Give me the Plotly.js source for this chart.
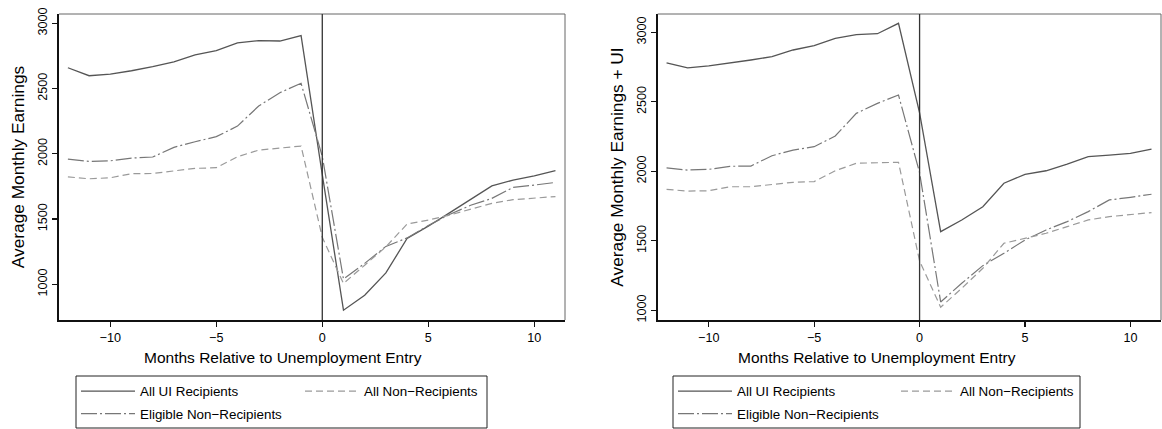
<!DOCTYPE html>
<html>
<head>
<meta charset="utf-8">
<script src="https://cdn.plot.ly/plotly-3.0.1.min.js"></script>
<style>html,body{margin:0;padding:0;background:#fff;}#chart{width:1162px;height:429px;}</style>
</head>
<body>
<div id="chart"></div>
<script>
// ---- data ----
const months = [-12,-11,-10,-9,-8,-7,-6,-5,-4,-3,-2,-1,0,1,2,3,4,5,6,7,8,9,10,11];
const seriesNames = ['All UI Recipients', 'All Non\u2212Recipients', 'Eligible Non\u2212Recipients'];
// Left panel: Average Monthly Earnings
const earnUI       = [2659,2598,2611,2636,2667,2705,2757,2790,2849,2867,2864,2905,1840,801,916,1087,1351,1445,1547,1650,1754,1798,1831,1870];
const earnNonRecip = [1823,1808,1816,1847,1849,1870,1888,1893,1977,2028,2046,2059,1360,1006,1146,1287,1461,1492,1530,1575,1620,1648,1660,1672];
const earnEligible = [1959,1941,1946,1967,1975,2049,2092,2131,2212,2366,2468,2540,1980,1040,1160,1290,1355,1450,1535,1605,1658,1742,1760,1780];
// Right panel: Average Monthly Earnings + UI
const totUI        = [2781,2745,2758,2777,2801,2825,2873,2904,2957,2983,2990,3065,2420,1566,1650,1745,1914,1978,2004,2052,2105,2117,2129,2160];
const totNonRecip  = [1870,1858,1860,1889,1889,1906,1921,1926,2004,2058,2060,2065,1355,1022,1158,1302,1482,1518,1554,1602,1650,1674,1686,1703];
const totEligible  = [2024,2009,2014,2036,2038,2112,2153,2177,2254,2417,2489,2549,1990,1060,1194,1321,1410,1506,1578,1638,1710,1794,1813,1835];
const xTicks = [-10,-5,0,5,10];
const yTicks = [1000,1500,2000,2500,3000];
const xTitle = 'Months Relative to Unemployment Entry';
const yTitleLeft = 'Average Monthly Earnings';
const yTitleRight = 'Average Monthly Earnings + UI';

// ---- styling ----
const W = 1162, H = 429;
const FONT = '"Liberation Sans", Arial, Helvetica, sans-serif';
const styles = [
  {color:'#555555', dash:'solid', width:1.3},
  {color:'#9a9a9a', dash:'7px,4px', width:1.2},
  {color:'#777777', dash:'16px,3px,2px,3px', width:1.2}
];
function tr(x, y, i, xa, ya, leg, grp){
  return {x:x, y:y, type:'scatter', mode:'lines', name:seriesNames[i],
    xaxis:xa, yaxis:ya, legend:leg, legendgroup:grp,
    line:{color:styles[i].color, dash:styles[i].dash, width:styles[i].width},
    hoverinfo:'skip'};
}
const data = [
  tr(months, earnUI, 0, 'x', 'y', 'legend', 'a1'),
  tr(months, earnEligible, 2, 'x', 'y', 'legend', 'a3'),
  tr(months, earnNonRecip, 1, 'x', 'y', 'legend2', 'a2'),
  tr(months, totUI, 0, 'x2', 'y2', 'legend3', 'b1'),
  tr(months, totEligible, 2, 'x2', 'y2', 'legend3', 'b3'),
  tr(months, totNonRecip, 1, 'x2', 'y2', 'legend4', 'b2')
];

const yDom = [1 - 320/H, 1 - 14/H];
function xax(dom, anchor){
  return {domain:dom, anchor:anchor, range:[-12.42, 11.45], tickmode:'array', tickvals:xTicks,
    ticks:'outside', ticklen:5, tickwidth:1.2, tickcolor:'#111', showline:true, linecolor:'#111', linewidth:1.6,
    showgrid:false, zeroline:false, automargin:false, tickfont:{size:12.6, family:FONT, color:'#000'}};
}
function yax(range, anchor, title){
  return {domain:yDom, anchor:anchor, range:range, tickmode:'array', tickvals:yTicks, tickangle:-90,
    ticks:'outside', ticklen:5, tickwidth:1.2, tickcolor:'#111', showline:true, linecolor:'#111', linewidth:1.6,
    showgrid:false, zeroline:false, automargin:false, tickfont:{size:12.6, family:FONT, color:'#000'},
    title:{text:title, font:{size:17.3, family:FONT, color:'#000'}, standoff:7}};
}
function leg(xpx){
  return {x:xpx/W, y:1 - 376/H, xanchor:'left', yanchor:'top', orientation:'v', bgcolor:'rgba(0,0,0,0)',
    borderwidth:0, font:{size:13.4, family:FONT, color:'#000'}, itemwidth:54, tracegroupgap:2,
    itemclick:false, itemdoubleclick:false};
}
function frame(xr, yr){
  return [
    {type:'line', xref:xr+' domain', yref:yr+' domain', x0:0, x1:1, y0:1, y1:1, line:{color:'#666', width:1}},
    {type:'line', xref:xr+' domain', yref:yr+' domain', x0:1, x1:1, y0:0, y1:1, line:{color:'#666', width:1}},
    {type:'line', xref:xr, yref:yr+' domain', x0:0, x1:0, y0:0, y1:1, line:{color:'#333', width:1.3}}
  ];
}
function box(x0, x1){
  return {type:'rect', xref:'paper', yref:'paper', x0:x0/W, x1:x1/W, y0:1-428/H, y1:1-376/H, line:{color:'#222', width:1}, fillcolor:'rgba(0,0,0,0)'};
}
function xTitleAnn(cx){
  return {text:xTitle, xref:'paper', yref:'paper', x:cx/W, y:1-357/H, xanchor:'center', yanchor:'middle',
    showarrow:false, font:{size:15.5, family:FONT, color:'#000'}};
}

const layout = {
  width:W, height:H, margin:{l:0, r:0, t:0, b:0, pad:0},
  paper_bgcolor:'#fff', plot_bgcolor:'#fff', font:{family:FONT, color:'#000'},
  showlegend:true,
  xaxis: xax([59/W, 565/W], 'y'),
  yaxis: yax([726, 3071], 'x', yTitleLeft),
  xaxis2: xax([657.7/W, 1161/W], 'y2'),
  yaxis2: yax([930, 3132], 'x2', yTitleRight),
  legend: leg(76), legend2: leg(300), legend3: leg(673), legend4: leg(896),
  shapes: [].concat(frame('x','y'), frame('x2','y2'), [box(76, 487), box(673, 1080)]),
  annotations: [xTitleAnn(282.5), xTitleAnn(877)]
};
Plotly.newPlot('chart', data, layout, {staticPlot:true, displayModeBar:false});
</script>
</body>
</html>
